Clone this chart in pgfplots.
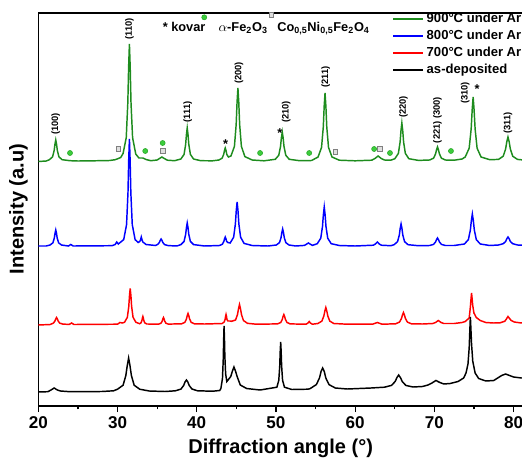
\documentclass[border=0pt]{standalone}
\usepackage{pgfplots}
\pgfplotsset{compat=1.18}
\usepackage{fontspec}
\setmainfont{Liberation Sans}
\definecolor{g900}{RGB}{30,140,30}
\definecolor{b800}{RGB}{0,0,255}
\definecolor{r700}{RGB}{255,0,0}
\definecolor{dotfill}{RGB}{60,205,60}
\definecolor{dotedge}{RGB}{40,165,40}

\begin{document}
\begin{tikzpicture}
\begin{axis}[
  x=5.94pt, y=0.75pt,
  xmin=20, xmax=82, ymin=0, ymax=393,
  axis line style={line width=0.9pt},
  xtick={20,30,...,80}, minor x tick num=1,
  ytick=\empty,
  xtick pos=left,
  tick align=outside,
  major tick length=4.5pt, minor tick length=2.5pt,
  every tick/.style={line width=0.9pt, black},
  /pgf/number format/assume math mode=true,
  tick label style={font=\fontsize{12.8}{14}\selectfont\bfseries},
  xlabel={Diffraction angle (°)}, ylabel={Intensity (a.u)},
  label style={font=\fontsize{15}{17}\selectfont\bfseries},
  xlabel style={at={(axis description cs:0.4935,-0.1069)}, anchor=center},
  ylabel style={at={(axis description cs:-0.0403,0.501)}, anchor=center},
  legend style={draw=none, fill=none, at={(axis description cs:0.712,1.013)}, anchor=north west,
    font=\fontsize{9.8}{11}\selectfont\bfseries},
  legend cell align=left,
  legend image code/.code={\draw[#1, line width=1.4pt] (0cm,0cm) -- (0.79cm,0cm);},
  every axis plot/.append style={line width=1.1pt},
]
% 900 C under Ar
\addplot[g900] coordinates {(20,244.5) (21,245) (21.4,246.3) (21.8,249.2) (22.0,255.5) (22.1,261.8) (22.2,266) (22.3,261.8) (22.4,255.5) (22.6,249.2) (23.0,246.3) (24,245.3) (25,245) (27,245.2) (29,245.5) (29.7,246.3) (30.1,247.5) (30.4,248.5) (30.7,252.5) (31.1,268.4) (31.3,303.5) (31.4,338.6) (31.5,362) (31.6,338.6) (31.7,303.5) (31.9,268.4) (32.3,252) (32.7,248) (33.2,248) (33.6,246.5) (34.2,245.3) (35.0,246) (35.3,247.5) (35.6,249) (35.9,247.5) (36.3,245.8) (37.2,245.3) (38.0,247) (38.4,251.6) (38.6,261.5) (38.7,271.4) (38.8,278) (38.9,271.4) (39.0,261.5) (39.2,251.6) (39.6,247) (40.5,245.3) (42,245.2) (42.8,246) (43.2,247.8) (43.4,251.5) (43.5,255.4) (43.6,258) (43.7,255.4) (43.8,251.5) (44.0,249) (44.32,250) (44.76,259.6) (44.98,281.5) (45.09,303.4) (45.2,318) (45.31,303.4) (45.42,281.5) (45.64,259.6) (46.08,249.4) (47,246) (48.5,245.2) (49.92,246.7) (50.36,250.8) (50.58,259.5) (50.69,268.2) (50.8,274) (50.91,268.2) (51.02,259.5) (51.24,250.8) (51.68,246.7) (53,245.3) (54.5,245.5) (55.32,249) (55.76,258.6) (55.98,279) (56.09,299.4) (56.2,313) (56.31,299.4) (56.42,279) (56.64,258.6) (57.08,249) (58,245.8) (60,245.2) (62.1,245.8) (62.5,247.5) (62.9,250) (63.3,247.5) (63.7,246) (64.5,245.8) (65.02,247.3) (65.46,252.6) (65.68,264) (65.79,275.4) (65.9,283) (66.01,275.4) (66.12,264) (66.34,252.6) (66.78,247.3) (68,245.6) (69.4,246) (69.9,247.8) (70.15,252) (70.28,256.2) (70.4,259) (70.52,256.2) (70.65,252) (70.9,247.8) (71.4,246) (72.5,245.8) (73.5,247) (73.9,249) (74.4,257.8) (74.65,277) (74.78,296.2) (74.9,309) (75.02,296.2) (75.15,277) (75.4,257.8) (75.9,249) (77,246.3) (78.1,246.6) (78.7,249.8) (79.0,257) (79.15,264.2) (79.3,269) (79.45,264.2) (79.6,257) (79.9,249.8) (80.5,246.6) (81.5,245.8) (82,245.6)};
\addlegendentry{900°C under Ar}
% 800 C under Ar
\addplot[b800] coordinates {(20,160) (21,160) (21.48,161) (21.84,163.2) (22.02,168) (22.11,172.8) (22.2,176) (22.29,172.8) (22.38,168) (22.56,163.2) (22.92,161) (23.8,160) (24.1,161.5) (24.4,160) (29.3,160.3) (29.7,161.5) (29.9,164) (30.1,162) (30.78,166.4) (31.14,181.4) (31.32,213.5) (31.41,245.6) (31.5,267) (31.59,245.6) (31.68,213.5) (31.86,181.4) (32.22,166.4) (32.6,163.5) (32.8,164.5) (32.9,166) (33.0,169) (33.1,166) (33.2,164) (33.6,161.5) (34.8,160.5) (35.1,161.8) (35.28,163.5) (35.39,165.6) (35.5,167) (35.61,165.6) (35.72,163.5) (35.94,161.4) (36.4,160.4) (37.5,160) (38.0,161.4) (38.4,164.6) (38.6,171.5) (38.7,178.4) (38.8,183) (38.9,178.4) (39.0,171.5) (39.2,164.6) (39.6,161.4) (41,160) (42.88,160.5) (43.24,161.8) (43.42,164.5) (43.51,167.2) (43.6,169) (43.69,167.2) (43.78,164.5) (43.96,163.4) (44.22,163) (44.66,168.8) (44.88,182) (44.99,195.2) (45.1,204) (45.21,195.2) (45.32,182) (45.54,168.8) (45.98,162.6) (47,160.5) (49,160) (50.05,161) (50.45,163.4) (50.65,168.5) (50.75,173.6) (50.85,177) (50.95,173.6) (51.05,168.5) (51.25,163.4) (51.65,161) (52.5,160) (53.6,160.6) (54.1,163) (54.6,160.6) (55.22,162.3) (55.66,167.8) (55.88,179.5) (55.99,191.2) (56.1,199) (56.21,191.2) (56.32,179.5) (56.54,167.8) (56.98,162.3) (58,160.5) (60,160) (62.3,160.8) (62.55,162) (62.8,164) (63.05,162) (63.3,160.8) (64.5,160.3) (64.92,161.3) (65.36,164.4) (65.58,171) (65.69,177.6) (65.8,182) (65.91,177.6) (66.02,171) (66.24,164.4) (66.68,161.3) (68,160.3) (69.4,160.5) (69.9,161.6) (70.15,164) (70.28,166.4) (70.4,168) (70.52,166.4) (70.65,164) (70.9,161.6) (71.4,160.5) (72.5,160.5) (73.8,162) (74.3,166.4) (74.55,176) (74.68,185.6) (74.8,192) (74.92,185.6) (75.05,176) (75.3,166.4) (75.8,162) (77,160.5) (78.1,161) (78.7,162.3) (79.0,164.5) (79.15,167.2) (79.3,169) (79.45,167.2) (79.6,164.5) (79.9,162.3) (80.5,161) (82,160.5)};
\addlegendentry{800°C under Ar}
% 700 C under Ar
\addplot[r700] coordinates {(20,81) (21.5,81.5) (21.9,82.9) (22.1,85) (22.2,87.1) (22.3,88.5) (22.4,87.1) (22.5,85) (22.7,82.9) (23.1,81.9) (23.9,81.6) (24.2,83) (24.5,81.5) (30.0,81.8) (30.3,83.5) (30.6,83) (30.88,83.7) (31.24,88.7) (31.42,99.5) (31.51,110.3) (31.6,117.5) (31.69,110.3) (31.78,99.5) (31.96,88.7) (32.32,83.7) (32.8,82.3) (32.96,83.1) (33.08,85.5) (33.14,87.9) (33.2,89.5) (33.26,87.9) (33.32,85.5) (33.44,83.1) (33.7,82) (35.2,81.9) (35.5,82.9) (35.65,85) (35.72,87.1) (35.8,88.5) (35.88,87.1) (35.95,85) (36.1,82.9) (36.4,81.9) (38.1,82.2) (38.5,83.7) (38.7,87) (38.8,90.3) (38.9,92.5) (39.0,90.3) (39.1,87) (39.3,83.7) (39.7,82.2) (41,82) (43.22,82.5) (43.46,84) (43.58,86.5) (43.64,89.5) (43.7,91.5) (43.76,89.5) (43.82,86.5) (43.94,85) (44.2,85) (44.4,84.7) (44.9,86) (45.15,91.5) (45.28,97.5) (45.4,101.5) (45.52,97.5) (45.65,91.5) (45.9,85.5) (46.4,82.7) (47.5,81.8) (50.2,82.1) (50.6,83.5) (50.8,86.5) (50.9,89.5) (51.0,91.5) (51.1,89.5) (51.2,86.5) (51.4,83.5) (51.8,82.1) (53.8,81.8) (54.05,83) (54.2,84.5) (54.35,83) (54.6,81.8) (55.3,82.5) (55.8,84.9) (56.05,90) (56.18,95.1) (56.3,98.5) (56.42,95.1) (56.55,90) (56.8,84.9) (57.3,82.5) (59,81.8) (62.2,81.8) (62.8,83.5) (63.4,81.8) (65.1,82.2) (65.6,83.9) (65.85,87.5) (65.98,91.1) (66.1,93.5) (66.22,91.1) (66.35,87.5) (66.6,83.9) (67.1,82.2) (68.5,82) (69.8,82.5) (70.15,83.5) (70.5,85.5) (70.85,83.5) (71.2,82.5) (72.5,82.5) (73.5,83.5) (73.9,84.5) (74.4,88) (74.55,99) (74.62,106) (74.7,113) (74.78,106.5) (74.85,100.5) (75.0,93) (75.3,88.5) (75.8,85.5) (76.5,83.5) (77.5,83) (78.3,83.2) (78.9,84.8) (79.1,87) (79.3,89.5) (79.5,87.5) (79.7,85.5) (80.1,84) (80.8,83.2) (82,83)};
\addlegendentry{700°C under Ar}
% as-deposited
\addplot[black] coordinates {(20,14) (21.2,14.3) (21.6,16) (21.8,17) (22.0,18) (22.2,17) (22.4,16) (22.8,15) (24,14.3) (28,14.5) (29.5,15.2) (30.0,16.8) (30.7,20.8) (31.05,30.5) (31.22,40) (31.4,48) (31.58,40) (31.75,30.5) (32.1,20.8) (32.8,16.8) (34,15) (36,14.5) (37.3,15.2) (38.0,16.9) (38.35,20.5) (38.52,24) (38.7,26) (38.88,24) (39.05,20.5) (39.4,17) (40.1,15.2) (42,14.8) (42.9,15.5) (43.05,17.5) (43.25,27.5) (43.35,47) (43.4,66) (43.45,80) (43.5,68) (43.55,50) (43.65,32) (43.8,24.5) (44.3,29.5) (44.5,34.8) (44.7,39) (44.9,34.8) (45.1,29.5) (45.5,21) (46.3,17.5) (48,16) (50.12,18.8) (50.36,25.6) (50.48,40) (50.54,54.4) (50.6,64) (50.66,54.4) (50.72,40) (50.84,25.6) (51.08,18.8) (52,16.5) (54,16.8) (54.3,17.3) (55.1,21.4) (55.5,28) (55.7,34.6) (55.9,38) (56.1,34.6) (56.3,28) (56.7,21.4) (57.5,18) (59,17) (62,18) (63.7,18.8) (64.6,20.6) (65.05,24.5) (65.28,28.4) (65.5,31) (65.72,28.4) (65.95,24.5) (66.4,20.6) (67.3,19) (68.5,19.5) (69.2,21) (69.7,23) (70.2,25.5) (70.7,23.5) (71.2,22) (72,22.5) (73,24.5) (73.7,28) (74.0,33) (74.25,42) (74.4,58) (74.48,75) (74.55,89) (74.62,77) (74.7,62) (74.85,45) (75.15,33) (75.6,27.5) (76.5,25) (77.5,25.5) (78.0,28) (78.5,30.5) (79.0,32) (79.5,30.5) (80.0,29) (81,28) (82,28)};
\addlegendentry{as-deposited}
% phase markers
\addplot[forget plot, only marks, mark=*, mark size=1.9pt, mark options={draw=dotedge, fill=dotfill, line width=0.4pt}]
  coordinates {(24.0,253) (33.5,255) (35.7,263) (48.0,253) (54.2,253) (62.4,257) (64.4,253) (72.1,255) (40.95,388.7)};
\addplot[forget plot, only marks, mark=square*, mark size=1.8pt, mark options={draw=gray, fill=gray!25, line width=0.4pt}]
  coordinates {(30.1,257) (35.7,255) (57.5,254) (63.1,257) (49.4,391)};

% peak labels
\begin{scope}[every node/.style={rotate=90, font=\fontsize{7}{8}\selectfont\bfseries}]
\node at (axis cs:22.2,282) {(100)};
\node at (axis cs:31.5,377) {(110)};
\node at (axis cs:38.86,294) {(111)};
\node at (axis cs:45.34,333) {(200)};
\node at (axis cs:51.3,294) {(210)};
\node at (axis cs:56.3,329) {(211)};
\node at (axis cs:66.1,299) {(220)};
\node at (axis cs:70.4,286) {(221) (300)};
\node at (axis cs:73.9,313) {(310)};
\node at (axis cs:79.3,283) {(311)};
\end{scope}
\begin{scope}[every node/.style={font=\fontsize{9.6}{11}\selectfont\bfseries}]
\node at (axis cs:43.66,262.3) {*};
\node at (axis cs:50.5,273.3) {*};
\node at (axis cs:75.4,317.3) {*};
\node[anchor=base west, inner sep=0pt] at (axis cs:35.68,375) {* kovar};
\node[anchor=base west, inner sep=0pt] at (axis cs:42.73,375) {$\alpha$-Fe\textsubscript{2}O\textsubscript{3}};
\node[anchor=base west, inner sep=0pt] at (axis cs:50.14,374.5) {Co\textsubscript{0,5}Ni\textsubscript{0,5}Fe\textsubscript{2}O\textsubscript{4}};
\end{scope}
\coordinate (bbsw) at (axis cs:15.16,-56);
\coordinate (bbne) at (axis cs:81.07,406);
\end{axis}
\pgfresetboundingbox
\useasboundingbox (bbsw) rectangle (bbne);
\end{tikzpicture}
\end{document}
